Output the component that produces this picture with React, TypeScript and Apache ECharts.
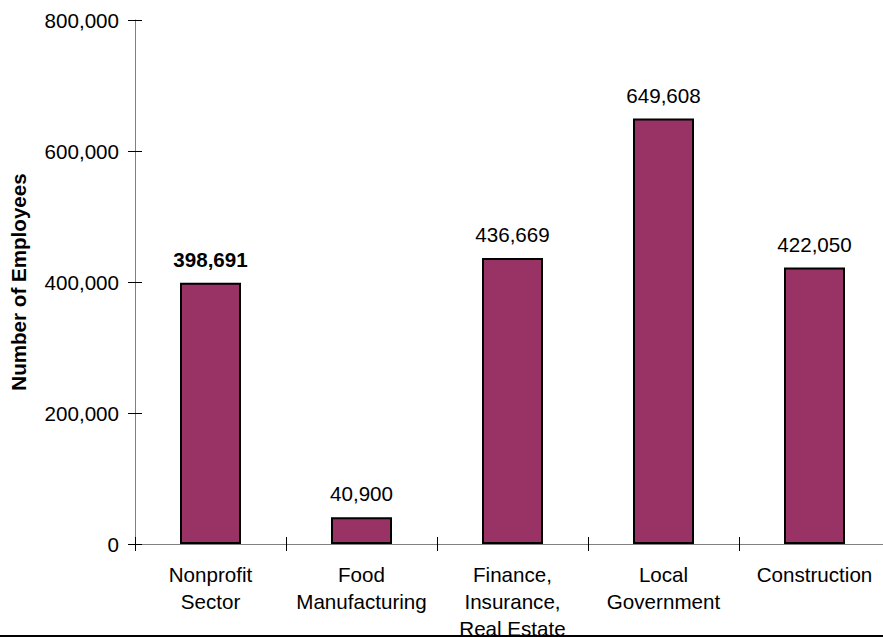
import React, { useEffect, useRef } from "react";
import * as echarts from "echarts";

const categories = [
  "Nonprofit\nSector",
  "Food\nManufacturing",
  "Finance,\nInsurance,\nReal Estate",
  "Local\nGovernment",
  "Construction",
];
const employees = [398691, 40900, 436669, 649608, 422050];
const boldIndex = [0];
const yMin = 0;
const yMax = 800000;
const yInterval = 200000;

const fmt = (v: number) => v.toLocaleString("en-US");
const FONT = "Liberation Sans, Arial, sans-serif";
const FS = 20.6;

export default function App() {
  const ref = useRef<HTMLDivElement>(null);
  useEffect(() => {
    if (!ref.current) return;
    const chart = echarts.init(ref.current, undefined, { renderer: "svg" });
    chart.setOption({
      animation: false,
      backgroundColor: "#ffffff",
      textStyle: { fontFamily: FONT },
      grid: {
        left: 135,
        top: 20,
        bottom: 93,
        right: 0,
        containLabel: false,
        outerBoundsMode: "none",
      },
      xAxis: [
        {
          type: "category",
          data: categories,
          position: "bottom",
          axisLine: { show: true, lineStyle: { color: "#808080", width: 1 } },
          axisTick: { show: true, inside: false, length: 7, lineStyle: { color: "#000" } },
          axisLabel: {
            interval: 0,
            margin: 17,
            fontSize: FS,
            lineHeight: 27,
            color: "#000",
            fontFamily: FONT,
          },
          splitLine: { show: false },
        },
        {
          type: "category",
          data: categories,
          position: "bottom",
          axisLine: { show: false },
          axisTick: { show: true, inside: true, length: 7, lineStyle: { color: "#000" } },
          axisLabel: { show: false },
          splitLine: { show: false },
        },
      ],
      yAxis: [
        {
          type: "value",
          min: yMin,
          max: yMax,
          interval: yInterval,
          name: "Number of Employees",
          nameLocation: "middle",
          nameGap: 106,
          nameTextStyle: { fontSize: FS, fontWeight: "bold", color: "#000", fontFamily: FONT },
          axisLine: { show: true, lineStyle: { color: "#808080", width: 1 } },
          axisTick: { show: true, inside: false, length: 7, lineStyle: { color: "#000" } },
          axisLabel: {
            margin: 16,
            fontSize: FS,
            color: "#000",
            fontFamily: FONT,
            formatter: (v: number) => fmt(v),
          },
          splitLine: { show: false },
        },
        {
          type: "value",
          min: yMin,
          max: yMax,
          interval: yInterval,
          position: "left",
          axisLine: { show: false },
          axisTick: { show: true, inside: true, length: 7, lineStyle: { color: "#000" } },
          axisLabel: { show: false },
          splitLine: { show: false },
        },
      ],
      series: [
        {
          type: "bar",
          xAxisIndex: 0,
          yAxisIndex: 0,
          barWidth: 61,
          data: employees.map((v, i) => ({
            value: v,
            label: boldIndex.includes(i) ? { fontWeight: "bold" } : undefined,
          })),
          itemStyle: { color: "#993366", borderColor: "#000", borderWidth: 2 },
          label: {
            show: true,
            position: "top",
            distance: 13,
            fontSize: FS,
            color: "#000",
            fontFamily: FONT,
            formatter: (p: any) => fmt(p.value),
          },
        },
      ],
      graphic: [
        {
          type: "rect",
          left: 0,
          top: 635,
          shape: { width: 890, height: 2 },
          style: { fill: "#000" },
          z: 100,
        },
      ],
    });
    return () => chart.dispose();
  }, []);
  return (
    <div style={{ position: "absolute", left: 0, top: 0, width: 883, height: 637, overflow: "hidden" }}>
      <div ref={ref} style={{ width: 890, height: 637 }} />
    </div>
  );
}
